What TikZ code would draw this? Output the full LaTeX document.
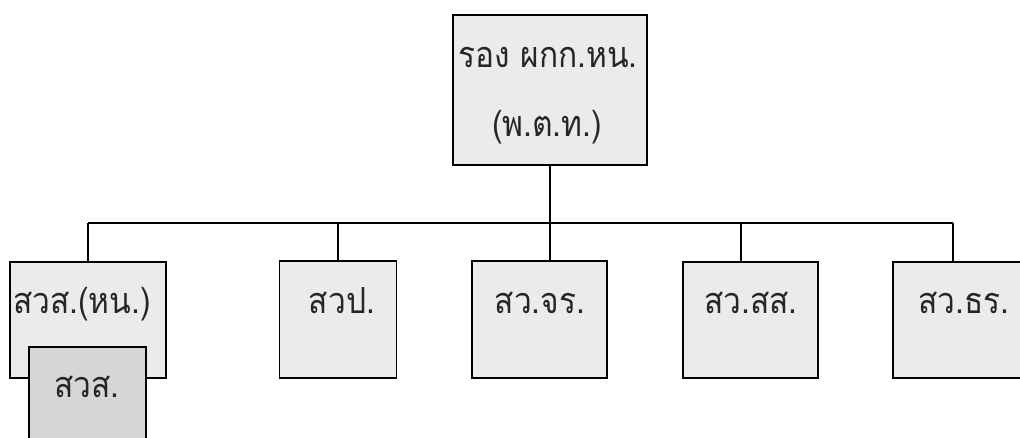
\documentclass[tikz,border=0pt]{standalone}
\usepackage{fontspec}
\newfontfamily\thaifont[Script=Thai,FakeStretch=0.88]{Loma}
\begin{document}
\begin{tikzpicture}[x=1pt,y=-1pt,
  box/.style={draw=black, line width=1.8pt, fill=black!8, rectangle, inner sep=0pt},
  darkbox/.style={box, fill=black!16},
  lbl/.style={font=\thaifont\fontsize{36}{42}\selectfont, inner sep=0pt, anchor=base, text=black!85},
  conn/.style={draw=black, line width=1.6pt}]
\useasboundingbox (0,0) rectangle (1020,438);
% boxes
\node[box, minimum width=194pt, minimum height=150pt] (top) at (550,90) {};
\node[box, minimum width=156pt, minimum height=116pt] (b1) at (88,320) {};
\node[box, minimum width=117pt, minimum height=117pt] (b2) at (338,319.5) {};
\node[box, minimum width=135pt, minimum height=117pt] (b3) at (539.5,319.5) {};
\node[box, minimum width=135pt, minimum height=116pt] (b4) at (750.5,320) {};
\node[box, minimum width=130pt, minimum height=116pt] (b5) at (958,320) {};
\node[darkbox, minimum width=117pt, minimum height=100pt] (b6) at (87.5,397) {};
% labels
\node[lbl] (t1) at (548,68) {รอง ผกก.หน.};
\node[lbl] (t2) at (547,137) {(พ.ต.ท.)};
\node[lbl] (l1) at (82,313) {สวส.(หน.)};
\node[lbl] (l2) at (342,313) {สวป.};
\node[lbl] (l3) at (540,313) {สว.จร.};
\node[lbl] (l4) at (751,313) {สว.สส.};
\node[lbl] (l5) at (964,313) {สว.ธร.};
\node[lbl] (l6) at (87,397) {สวส.};
% connectors
\coordinate (busL) at (88,223);
\coordinate (busR) at (953,223);
\coordinate (c4) at (741,223);
\draw[conn] (busL) -- (busR);
\draw[conn] (top.south) -- (top.south |- b3.north);
\draw[conn] (busL) -- (busL |- b1.north);
\draw[conn] (b2.north |- busL) -- (b2.north);
\draw[conn] (c4) -- (c4 |- b4.north);
\draw[conn] (busR) -- (busR |- b5.north);
\end{tikzpicture}
\end{document}
